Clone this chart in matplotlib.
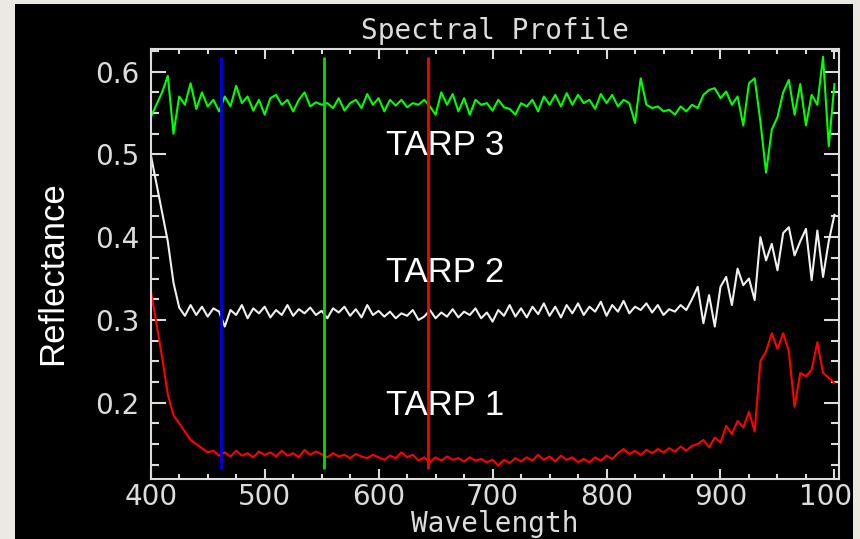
import numpy as np
import matplotlib
matplotlib.use("Agg")
import matplotlib.pyplot as plt
from matplotlib.ticker import MultipleLocator, FormatStrFormatter
from matplotlib.patches import Rectangle

# wavelength grid (nm), one sample every 5 nm
wavelength = np.arange(400, 1005, 5)

tarp3 = [0.545, 0.560, 0.575, 0.595, 0.525, 0.570, 0.560, 0.586, 0.555, 0.575,
         0.558, 0.566, 0.552, 0.570, 0.558, 0.583, 0.562, 0.570, 0.553, 0.566,
         0.548, 0.568, 0.572, 0.560, 0.566, 0.552, 0.566, 0.575, 0.558, 0.563,
         0.560, 0.562, 0.556, 0.568, 0.553, 0.562, 0.566, 0.556, 0.573, 0.560,
         0.568, 0.552, 0.566, 0.559, 0.566, 0.557, 0.562, 0.560, 0.566, 0.558,
         0.548, 0.575, 0.560, 0.573, 0.552, 0.568, 0.548, 0.566, 0.560, 0.562,
         0.553, 0.566, 0.557, 0.555, 0.548, 0.562, 0.558, 0.566, 0.552, 0.570,
         0.560, 0.572, 0.558, 0.574, 0.560, 0.572, 0.562, 0.566, 0.555, 0.573,
         0.562, 0.572, 0.558, 0.566, 0.562, 0.538, 0.592, 0.560, 0.556, 0.558,
         0.552, 0.554, 0.548, 0.558, 0.552, 0.560, 0.556, 0.572, 0.578, 0.580,
         0.568, 0.576, 0.560, 0.570, 0.535, 0.586, 0.592, 0.540, 0.478, 0.530,
         0.545, 0.575, 0.590, 0.548, 0.585, 0.535, 0.572, 0.560, 0.618, 0.510,
         0.585]

tarp2 = [0.500, 0.465, 0.430, 0.395, 0.345, 0.315, 0.305, 0.318, 0.306, 0.316,
         0.304, 0.314, 0.310, 0.292, 0.312, 0.306, 0.318, 0.302, 0.314, 0.308,
         0.316, 0.303, 0.312, 0.306, 0.318, 0.305, 0.313, 0.308, 0.315, 0.306,
         0.311, 0.302, 0.314, 0.309, 0.316, 0.305, 0.313, 0.303, 0.318, 0.306,
         0.311, 0.304, 0.310, 0.302, 0.308, 0.305, 0.312, 0.300, 0.304, 0.312,
         0.302, 0.309, 0.304, 0.313, 0.303, 0.310, 0.306, 0.314, 0.302, 0.309,
         0.298, 0.312, 0.305, 0.318, 0.304, 0.314, 0.303, 0.316, 0.307, 0.320,
         0.305, 0.316, 0.303, 0.318, 0.308, 0.320, 0.306, 0.316, 0.310, 0.322,
         0.305, 0.318, 0.310, 0.323, 0.308, 0.316, 0.312, 0.320, 0.309, 0.318,
         0.306, 0.313, 0.310, 0.318, 0.312, 0.325, 0.340, 0.296, 0.330, 0.292,
         0.340, 0.352, 0.318, 0.362, 0.342, 0.350, 0.324, 0.400, 0.372, 0.392,
         0.360, 0.405, 0.412, 0.378, 0.395, 0.410, 0.348, 0.408, 0.352, 0.395,
         0.427]

tarp1 = [0.336, 0.296, 0.255, 0.210, 0.185, 0.175, 0.165, 0.155, 0.150, 0.145,
         0.140, 0.142, 0.136, 0.140, 0.135, 0.142, 0.136, 0.139, 0.134, 0.141,
         0.137, 0.140, 0.135, 0.142, 0.136, 0.139, 0.134, 0.143, 0.137, 0.141,
         0.138, 0.134, 0.139, 0.135, 0.137, 0.133, 0.138, 0.135, 0.133, 0.137,
         0.134, 0.131, 0.136, 0.133, 0.140, 0.134, 0.137, 0.130, 0.134, 0.128,
         0.134, 0.130, 0.135, 0.131, 0.133, 0.129, 0.134, 0.130, 0.132, 0.128,
         0.131, 0.124, 0.131, 0.127, 0.133, 0.129, 0.134, 0.130, 0.137, 0.131,
         0.135, 0.129, 0.136, 0.131, 0.134, 0.128, 0.132, 0.128, 0.134, 0.130,
         0.136, 0.132, 0.139, 0.144, 0.138, 0.142, 0.137, 0.143, 0.139, 0.144,
         0.140, 0.145, 0.141, 0.147, 0.142, 0.148, 0.150, 0.155, 0.146, 0.158,
         0.152, 0.172, 0.162, 0.178, 0.170, 0.189, 0.165, 0.250, 0.262, 0.284,
         0.265, 0.284, 0.262, 0.195, 0.236, 0.232, 0.240, 0.273, 0.236, 0.230,
         0.224]

band_pos = [462, 552, 643]
band_colors = ["#0000E6", "#00E000", "#FF0000"]

tarp_labels = ["TARP 3", "TARP 2", "TARP 1"]
tarp_label_y = [0.511, 0.357, 0.197]

FG = "#DCDCDC"
BEIGE = "#ECEAE0"

fig = plt.figure(figsize=(8.6, 5.39), dpi=100, facecolor=BEIGE)
# black panel behind the plot
fig.patches.append(Rectangle((15 / 860, 0), 838 / 860, 535 / 539,
                             transform=fig.transFigure, facecolor="black",
                             edgecolor="none", zorder=-5))

ax = fig.add_axes([150.7 / 860, 1 - 479 / 539, 688.3 / 860, 430 / 539])
ax.set_facecolor("black")

ax.plot(wavelength, tarp3, color="#00FF00", lw=1.5)
ax.plot(wavelength, tarp2, color="#F0F0F0", lw=1.5)
ax.plot(wavelength, tarp1, color="#FF0000", lw=1.5)
ax.vlines(band_pos, 0.12, 0.618, colors=band_colors, lw=2)

for lab, yy in zip(tarp_labels, tarp_label_y):
    ax.text(606.6, yy, lab, color="white", fontsize=25,
            family="Liberation Sans", ha="left", va="center")

ax.set_xlim(400, 1004)
ax.set_ylim(0.1078, 0.6274)
ax.xaxis.set_major_locator(MultipleLocator(100))
ax.xaxis.set_minor_locator(MultipleLocator(25))
ax.yaxis.set_major_locator(MultipleLocator(0.1))
ax.yaxis.set_minor_locator(MultipleLocator(0.025))
ax.yaxis.set_major_formatter(FormatStrFormatter("%.1f"))

for s in ax.spines.values():
    s.set_color(FG)
    s.set_linewidth(1.5)
ax.tick_params(which="both", direction="in", top=True, right=True,
               color=FG, width=1.5, labelcolor=FG, labelsize=20)
ax.tick_params(axis="x", which="major", length=7.2, pad=3)
ax.tick_params(axis="x", which="minor", length=3.6)
ax.tick_params(axis="y", which="major", length=10.8, pad=8)
ax.tick_params(axis="y", which="minor", length=5.8)

ax.set_title("Spectral Profile", color=FG, fontsize=20,
             family="DejaVu Sans Mono", pad=7)
ax.set_xlabel("Wavelength", color=FG, fontsize=20, family="DejaVu Sans Mono")
ax.xaxis.set_label_coords(0.5, -0.072)

fig.text(53 / 860, 1 - 273 / 539, "Reflectance", color="white", fontsize=25,
         family="Liberation Sans", rotation=90, ha="center", va="center")

# beige strip on the right cuts off the last tick label like the slide does
fig.patches.append(Rectangle((853 / 860, 0), 7 / 860, 1,
                             transform=fig.transFigure, facecolor=BEIGE,
                             edgecolor="none", zorder=10))

fig.savefig("out.png", dpi=100, facecolor=BEIGE)
